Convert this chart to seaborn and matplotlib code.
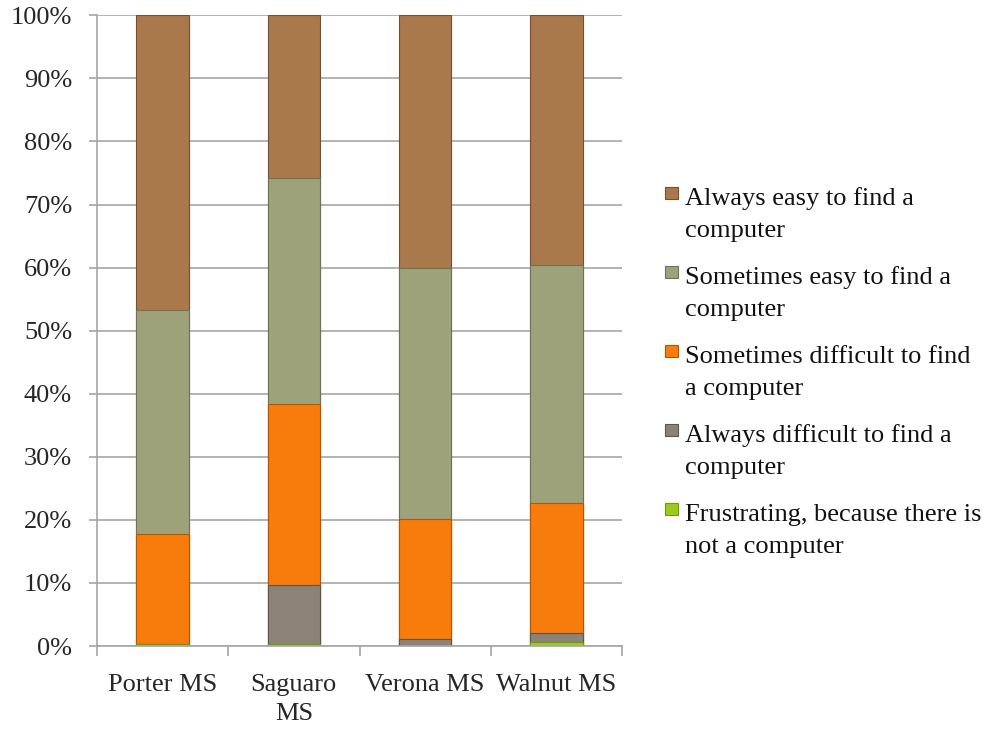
import numpy as np
import pandas as pd
import matplotlib
matplotlib.use("Agg")
import matplotlib.pyplot as plt
import seaborn as sns
from matplotlib.patches import Rectangle
from matplotlib.ticker import FixedLocator, PercentFormatter

schools = ["Porter MS", "Saguaro\nMS", "Verona MS", "Walnut MS"]

# shares in percent, bottom to top of each stack
frustrating = [0.4, 0.4, 0.0, 0.7]
always_difficult = [0.0, 9.3, 1.1, 1.4]
sometimes_difficult = [17.3, 28.6, 19.0, 20.6]
sometimes_easy = [35.6, 35.9, 39.8, 37.7]
always_easy = [46.7, 25.8, 40.1, 39.6]

series = [
    (["Frustrating, because there is", "not a computer"], frustrating, "#9BCB1C", "#6E9A10"),
    (["Always difficult to find a", "computer"], always_difficult, "#8C8276", "#5E564D"),
    (["Sometimes difficult to find", "a computer"], sometimes_difficult, "#F87C0C", "#B85500"),
    (["Sometimes easy to find a", "computer"], sometimes_easy, "#9EA27B", "#6F7256"),
    (["Always easy to find a", "computer"], always_easy, "#A9794C", "#74502E"),
]

sns.set_style("white")
plt.rcParams["font.family"] = ["Liberation Serif", "DejaVu Serif"]
FS = 19

fig = plt.figure(figsize=(10, 7.3), dpi=100)
ax = fig.add_axes([0.097, 0.115, 0.525, 0.864])

# cumulative tops, drawn tallest first so lower segments sit on top
cum = np.cumsum([s[1] for s in series], axis=0)
for i in range(len(series) - 1, -1, -1):
    df = pd.DataFrame({"school": schools, "top": cum[i]})
    sns.barplot(data=df, x="school", y="top", color=series[i][2], ax=ax,
                width=0.4, edgecolor=series[i][3], linewidth=0.8,
                saturation=1, zorder=2)

ax.set_ylim(0, 100)
ax.set_xlim(-0.5, 3.5)
ax.yaxis.set_major_locator(FixedLocator(np.arange(0, 101, 10)))
ax.yaxis.set_major_formatter(PercentFormatter(decimals=0))
ax.yaxis.grid(True, color="#A6A6A6", linewidth=1.2, zorder=0)
ax.set_axisbelow(True)
ax.set_xlabel("")
ax.set_ylabel("")

for side in ["top", "right"]:
    ax.spines[side].set_visible(False)
for side in ["left", "bottom"]:
    ax.spines[side].set_color("#A6A6A6")
    ax.spines[side].set_linewidth(1.2)

ax.tick_params(axis="y", labelsize=FS, length=6, color="#A6A6A6", width=1.2,
               left=True, pad=12)
ax.tick_params(axis="x", labelsize=FS, length=0, pad=20)
ax.set_xticks(range(len(schools)))
ax.set_xticklabels(schools, linespacing=1.4)
ax.xaxis.set_minor_locator(FixedLocator(np.arange(-0.5, 3.6, 1)))
ax.tick_params(axis="x", which="minor", length=7, color="#A6A6A6", width=1.2,
               bottom=True)

# legend drawn by hand so the swatch lines up with the first text line
H = 730.0
base0 = 205
step = 79
for k, (lines, _, fc, ec) in enumerate(reversed(series)):
    b = base0 + k * step
    fig.patches.append(Rectangle((665 / 1000, 1 - (b - 6) / H), 13 / 1000, 12 / H,
                                 transform=fig.transFigure, facecolor=fc,
                                 edgecolor=ec, linewidth=0.8))
    fig.text(685 / 1000, 1 - b / H, lines[0], fontsize=FS, va="baseline",
             color="#111111")
    fig.text(685 / 1000, 1 - (b + 32) / H, lines[1], fontsize=FS, va="baseline",
             color="#111111")

plt.savefig("out.png", dpi=100)
